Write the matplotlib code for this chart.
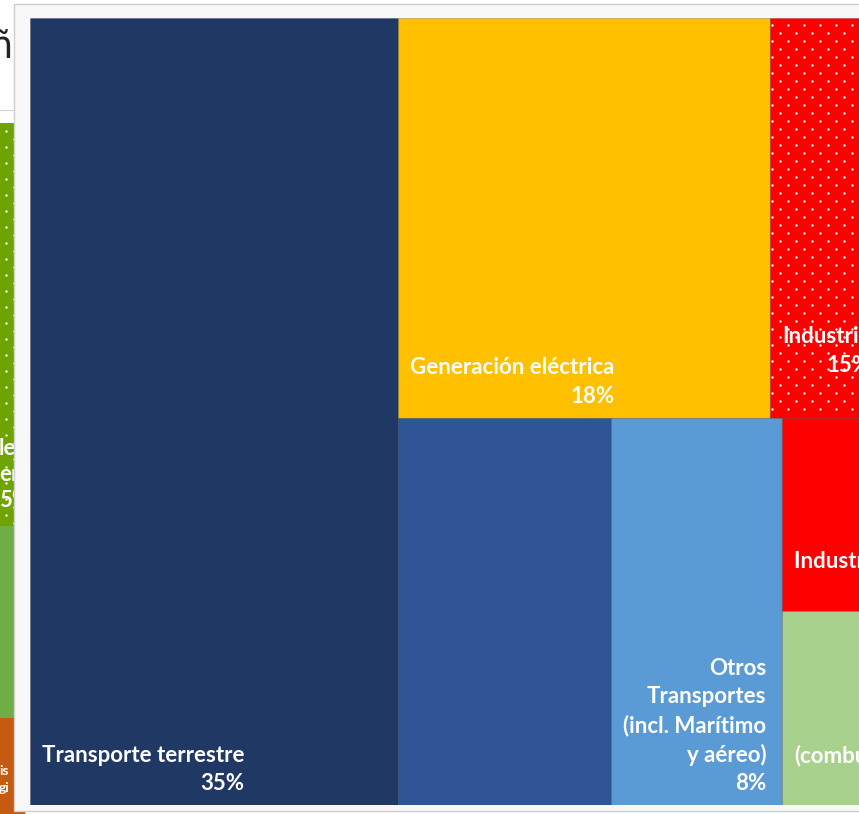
import matplotlib
matplotlib.use("Agg")
import numpy as np
import matplotlib.pyplot as plt
from matplotlib.patches import Rectangle

plt.rcParams["font.family"] = ["Lato", "DejaVu Sans"]

# Emission shares by sub-sector (%)
categories = [
    "Transporte terrestre",
    "Generación eléctrica",
    "Industria",
    "Otros sectores",
    "Otros\nTransportes\n(incl. Marítimo\ny aéreo)",
    "Industria (procesos)",
    "Otros\n(combustibles)",
]
shares = [35, 18, 15, 10, 8, 7, 7]
show_label = [True, True, True, False, True, True, True]
colors = ["#203864", "#FFC000", "#FF0000", "#2F5597", "#5B9BD5", "#FF0000", "#A9D18E"]
dotted = [False, False, True, False, False, False, False]
label_lift_px = [0, 0, 31, 0, 0, 0, 0]

# slice-and-dice arrangement: "h" = side by side, "v" = stacked top to bottom
arrangement = ("h", [0, ("v", [("h", [1, 2]), ("h", [3, 4, ("v", [5, 6])])])])


def subtotal(node):
    if isinstance(node, int):
        return shares[node]
    return sum(subtotal(c) for c in node[1])


def place(node, x, y, w, h, out):
    if isinstance(node, int):
        out[node] = (x, y, w, h)
        return
    orient, kids = node
    tot = subtotal(node)
    if orient == "h":
        cx = x
        for k in kids:
            kw = w * subtotal(k) / tot
            place(k, cx, y, kw, h, out)
            cx += kw
    else:
        cy = y + h
        for k in kids:
            kh = h * subtotal(k) / tot
            cy -= kh
            place(k, x, cy, w, kh, out)


def dot_rows(left, right, top, bottom, ox=2.0, oy=7.0, dx=16.0, dy=8.0):
    """Staggered white-dot texture inside a pixel box (y grows downward)."""
    pts = []
    r = 0
    y = top + oy
    while y < bottom - 1:
        x = left + ox + (dx / 2 if r % 2 else 0)
        while x < right - 1:
            pts.append((x, y))
            x += dx
        r += 1
        y += dy
    return np.array(pts)


W_PX, H_PX = 859, 814
fig = plt.figure(figsize=(W_PX / 100, H_PX / 100), dpi=100, facecolor="white")

# ---- backdrop: neighbouring panel and frame, in pixel units ----
bg = fig.add_axes([0, 0, 1, 1])
bg.set_xlim(0, W_PX)
bg.set_ylim(H_PX, 0)
bg.axis("off")
bg.set_zorder(0)

bg.add_patch(Rectangle((-5, 110), 30, 720, fc="white", ec="#d4d4d4", lw=0.8, zorder=1))
strip = [(123, 526, "#6FA400"), (526, 718, "#70AD47"), (718, 820, "#C55A11")]
for y0, y1, c in strip:
    bg.add_patch(Rectangle((-2, y0), 27, y1 - y0, fc=c, ec="none", zorder=2))
pts = dot_rows(-2, 25, 123, 526, ox=8.0, oy=8.0)
bg.scatter(pts[:, 0], pts[:, 1], s=3, c="white", lw=0, zorder=3)
bg.text(-1, 438, "le\ner\n5%", color="white", fontsize=16, fontweight="bold",
        ha="left", va="top", linespacing=1.3, zorder=4)
bg.text(-1, 765, "is\ngi", color="white", fontsize=10, fontweight="bold",
        ha="left", va="top", linespacing=1.45, zorder=4)
bg.text(14, 58, "Añ", color="#222222", fontsize=27, family="DejaVu Sans",
        ha="right", va="baseline", zorder=4)

bg.add_patch(Rectangle((13.5, 3.5), 900, 807, fc="#f8f8f8", ec="#cfcfcf", lw=1.0, zorder=5))

# ---- treemap ----
tm = fig.add_axes([30 / W_PX, 9 / H_PX, 1051 / W_PX, 787 / H_PX])
tm.set_zorder(2)
tm.set_xlim(0, 1)
tm.set_ylim(0, 1)
tm.axis("off")

cells = {}
place(arrangement, 0.0, 0.0, 1.0, 1.0, cells)

for i in range(len(shares)):
    x, y, w, h = cells[i]
    tm.add_patch(Rectangle((x, y), w, h, fc=colors[i], ec=(0, 0, 0, 0.18), lw=0.8, zorder=1))
    if dotted[i]:
        (px0, py0), (px1, py1) = tm.transData.transform([(x, y), (x + w, y + h)])
        d = dot_rows(px0, px1, 0, py1 - py0)
        disp = np.column_stack([d[:, 0], py1 - d[:, 1]])
        dd = tm.transData.inverted().transform(disp)
        tm.scatter(dd[:, 0], dd[:, 1], s=3, c="white", lw=0, zorder=2)
    if show_label[i]:
        tm.annotate(f"{categories[i]}\n{shares[i]}%", xy=(x, y),
                    xytext=(12, 11 + label_lift_px[i]), textcoords="offset pixels",
                    ha="left", va="bottom", multialignment="right",
                    color="white", fontsize=16, fontweight="bold",
                    linespacing=1.42, zorder=4, annotation_clip=False)

fig.savefig("out.png", dpi=100, facecolor="white")
